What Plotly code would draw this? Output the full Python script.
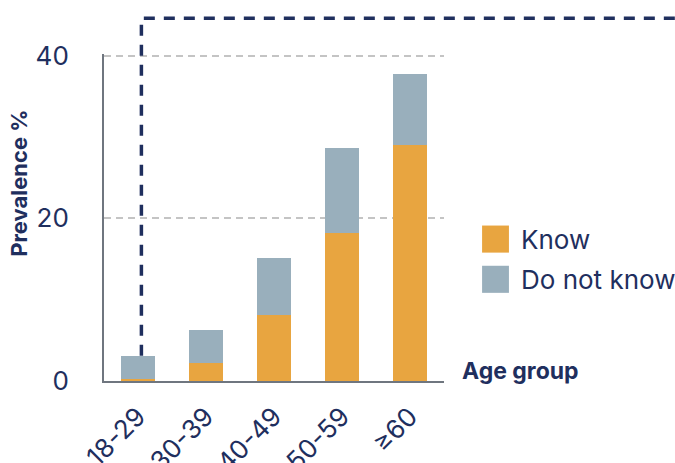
import plotly.graph_objects as go

# ---- data ----
age_groups = ["18-29", "30-39", "40-49", "50-59", "≥60"]
know = [0.2, 2.2, 8.1, 18.2, 29.0]
do_not_know = [2.9, 4.1, 7.0, 10.4, 8.7]
series_names = ["Know", "Do not know"]
y_ticks = [0, 20, 40]

# marker line endpoints (data units)
line_x_cat = 0.05          # slightly right of first bar centre
line_y_start = know[0] + do_not_know[0]
line_y_top = 44.6

NAVY = "#1f2f5e"
ORANGE = "#e8a540"
BLUEGRAY = "#99afbc"
FONT = "Inter"

Y_MAX = 40.2
N = len(age_groups)

fig = go.Figure()
fig.add_trace(go.Bar(x=age_groups, y=know, name=series_names[0],
                     marker=dict(color=ORANGE, line=dict(width=0)),
                     width=0.51, showlegend=False))
fig.add_trace(go.Bar(x=age_groups, y=do_not_know, name=series_names[1],
                     marker=dict(color=BLUEGRAY, line=dict(width=0)),
                     width=0.51, showlegend=False))

def px_(v):  # category position -> paper x
    return (v + 0.5) / N

def py_(v):  # data y -> paper y
    return v / Y_MAX

shapes = [
    dict(type="path", xref="paper", yref="paper",
         path=f"M {px_(line_x_cat)},{py_(line_y_start)} V {py_(line_y_top)} H 3",
         line=dict(color=NAVY, width=3.5, dash="11px,9px"), layer="above"),
]

# manual legend
leg_colors = [ORANGE, BLUEGRAY]
leg_rows = [0.434, 0.311]
half_h = 0.0414
for c, yc in zip(leg_colors, leg_rows):
    shapes.append(dict(type="rect", xref="paper", yref="paper",
                       x0=1.112, x1=1.191, y0=yc - half_h, y1=yc + half_h,
                       fillcolor=c, line=dict(width=0)))

annotations = []
for name, yc in zip(series_names, leg_rows):
    annotations.append(dict(text=name, xref="paper", yref="paper", x=1.22, y=yc,
                            xanchor="left", yanchor="middle", showarrow=False,
                            font=dict(family=FONT, size=26, color=NAVY)))
annotations.append(dict(text="<b>Age group</b>", xref="paper", yref="paper",
                        x=1.048, y=0.031, xanchor="left", yanchor="middle",
                        showarrow=False, font=dict(family=FONT, size=23, color=NAVY)))
annotations.append(dict(text="<b>Prevalence %</b>", xref="paper", yref="paper",
                        x=-0.25, y=0.606, xanchor="center", yanchor="middle",
                        textangle=-90, showarrow=False,
                        font=dict(family=FONT, size=22, color=NAVY)))

fig.update_layout(
    barmode="stack",
    width=675, height=463,
    margin=dict(l=104, r=231, t=54, b=82, autoexpand=False),
    paper_bgcolor="white", plot_bgcolor="white",
    font=dict(family=FONT, color=NAVY),
    showlegend=False,
    shapes=shapes,
    annotations=annotations,
    xaxis=dict(
        showline=True, linecolor="#6f767f", linewidth=2,
        ticks="", tickangle=-45, automargin=False, ticklabelstandoff=8,
        tickfont=dict(family=FONT, size=26, color=NAVY),
        showgrid=False, range=[-0.5, 4.5], fixedrange=True,
    ),
    yaxis=dict(
        range=[0, Y_MAX], tickvals=y_ticks, automargin=False,
        showline=True, linecolor="#6f767f", linewidth=2,
        ticks="", ticklabelstandoff=28,
        tickfont=dict(family=FONT, size=26, color=NAVY),
        showgrid=True, gridcolor="#c4c4c4", gridwidth=2, griddash="7px,5px",
        zeroline=False,
    ),
)

fig.write_html("out.html")
